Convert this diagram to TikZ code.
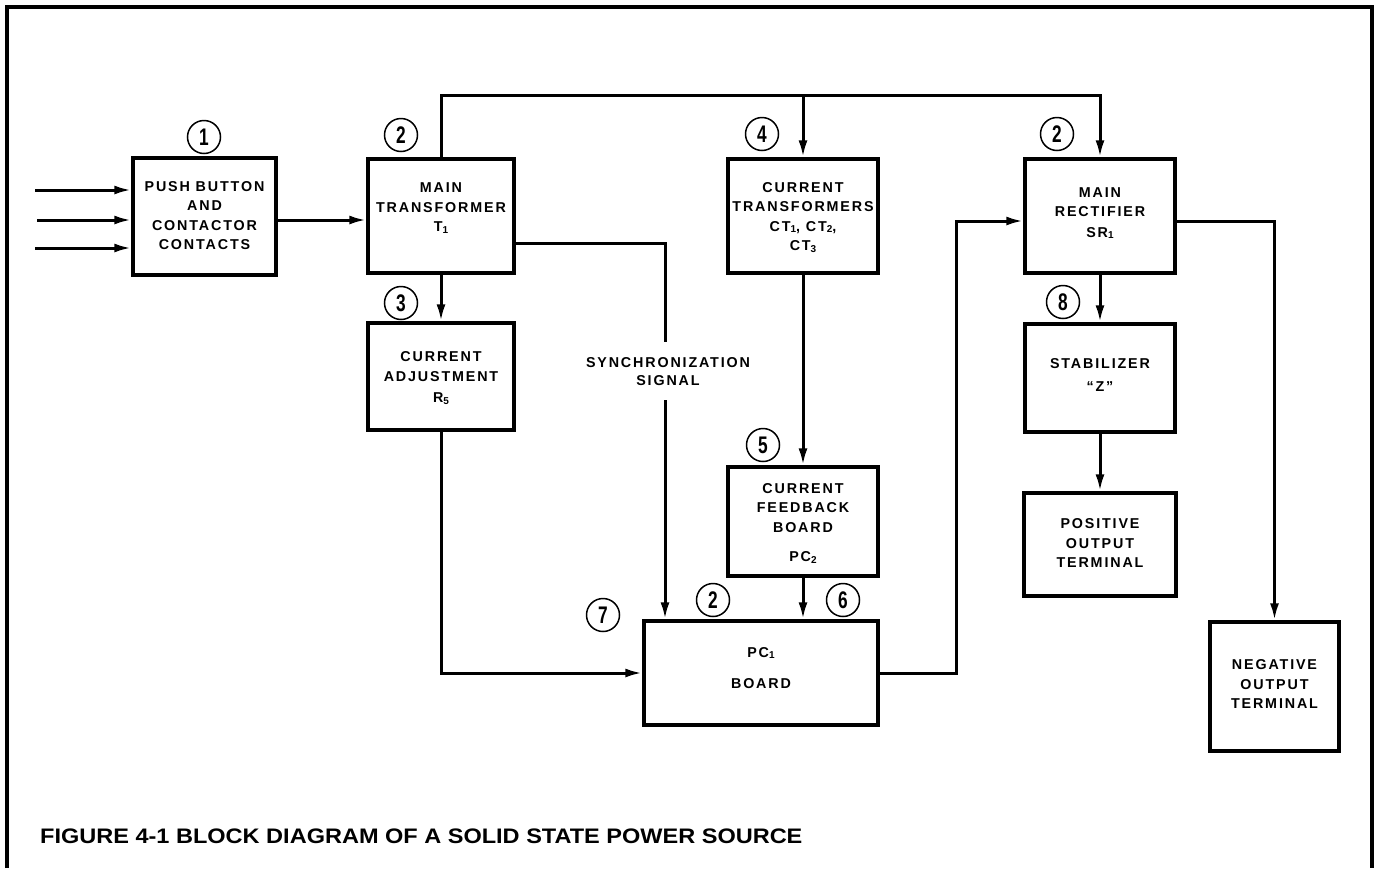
\documentclass[tikz,border=0pt]{standalone}
\usepackage{fontspec}
\setmainfont{Liberation Sans}
\newfontfamily\boxfont[LetterSpace=13,Ligatures=TeX]{Liberation Sans}
\usetikzlibrary{arrows.meta,calc}
\newcommand{\sbs}[1]{\raisebox{-1.5pt}{\fontsize{10}{10}\selectfont #1}}
\newcommand{\cnum}[1]{\scalebox{0.72}[1]{#1}}
\tikzset{
  blk/.style={draw, rectangle, line width=3.4pt, inner sep=0pt},
  txt/.style={align=center, inner sep=0pt, font=\boxfont\bfseries\fontsize{14.3}{19.5}\selectfont},
  num/.style={draw, circle, line width=1.5pt, minimum size=33pt, inner sep=0pt,
              font=\bfseries\fontsize{24}{24}\selectfont},
  wire/.style={line width=3pt, line join=miter},
  arr/.style={wire, -{Latex[length=17pt,width=9pt]}},
  frame/.style={line width=3.2pt},
}
\begin{document}
\begin{tikzpicture}[x=1pt,y=-1pt]
\useasboundingbox (0,0) rectangle (1377,868);
\draw[frame] (7,868) -- (7,7) -- (1372,7) -- (1372,868);

% boxes
\node[blk, minimum width=143, minimum height=117] (pb)  at (204.5,216.5) {};
\node[blk, minimum width=146, minimum height=114] (mt)  at (441,216) {};
\node[blk, minimum width=146, minimum height=107] (ca)  at (441,376.5) {};
\node[blk, minimum width=150, minimum height=114] (ct)  at (803,216) {};
\node[blk, minimum width=150, minimum height=109] (cfb) at (803,521.5) {};
\node[blk, minimum width=234, minimum height=104] (pc)  at (761,673) {};
\node[blk, minimum width=150, minimum height=114] (mr)  at (1100,216) {};
\node[blk, minimum width=150, minimum height=108] (st)  at (1100,378) {};
\node[blk, minimum width=152, minimum height=103] (pos) at (1100,544.5) {};
\node[blk, minimum width=129, minimum height=129] (neg) at (1274.5,686.5) {};

% texts
\node[txt] (tpb)  at (204.5,215.5) {PUSH BUTTON\\AND\\CONTACTOR\\CONTACTS};
\node[txt] (tmt)  at (441,208) {MAIN\\TRANSFORMER\\T\sbs{1}};
\node[txt] (tca)  at (441,378) {CURRENT\\ADJUSTMENT\\[2pt]R\sbs{5}};
\node[txt] (tct)  at (803,217.5) {CURRENT\\TRANSFORMERS\\CT\sbs{1}, CT\sbs{2},\\CT\sbs{3}};
\node[txt] (tcfb) at (803,523) {CURRENT\\FEEDBACK\\BOARD\\[10pt]PC\sbs{2}};
\node[txt] (tpc)  at (761,668) {PC\sbs{1}\\[12pt]BOARD};
\node[txt] (tmr)  at (1100,213) {MAIN\\RECTIFIER\\[1pt]SR\sbs{1}};
\node[txt] (tst)  at (1100,375) {STABILIZER\\[4pt]“Z”};
\node[txt] (tpos) at (1100,543) {POSITIVE\\OUTPUT\\TERMINAL};
\node[txt] (tneg) at (1274.5,684) {NEGATIVE\\OUTPUT\\TERMINAL};
\node[txt, font=\boxfont\bfseries\fontsize{14.3}{18}\selectfont] (sync) at (668,372) {SYNCHRONIZATION\\SIGNAL};

% numbered circles
\node[num] (n1)  at (204,137)  {\cnum{1}};
\node[num] (n2a) at (401,135)  {\cnum{2}};
\node[num] (n3)  at (401,303)  {\cnum{3}};
\node[num] (n4)  at (762,134)  {\cnum{4}};
\node[num] (n5)  at (763,445)  {\cnum{5}};
\node[num] (n2b) at (713,600)  {\cnum{2}};
\node[num] (n6)  at (843,600)  {\cnum{6}};
\node[num] (n7)  at (603,615)  {\cnum{7}};
\node[num] (n2c) at (1057,134) {\cnum{2}};
\node[num] (n8)  at (1063,302) {\cnum{8}};

% coordinates
\coordinate (in1) at (35,190);
\coordinate (in2) at (37,220);
\coordinate (in3) at (35,248);
\coordinate (bus) at (441,95);
\coordinate (mtOut) at (514,243);
\coordinate (syncA) at (665,243);
\coordinate (syncB) at (665,342);
\coordinate (syncC) at (665,400);
\coordinate (fb) at (956,221);

% connectors
\draw[arr] (in1) -- (pb.west |- in1);
\draw[arr] (in2) -- (pb.west |- in2);
\draw[arr] (in3) -- (pb.west |- in3);
\draw[arr] (pb.east |- in2) -- (mt.west |- in2);
\draw[arr] (mt.north) -- (bus) -| (mr.north);
\draw[arr] (ct.north |- bus) -- (ct.north);
\draw[arr] (mt.south) -- (ca.north);
\draw[wire] (mtOut) -- (syncA) -- (syncB);
\draw[arr] (syncC) -- (syncC |- pc.north);
\draw[arr] (ca.south) |- (pc.west);
\draw[arr] (ct.south) -- (cfb.north);
\draw[arr] (cfb.south) -- (cfb.south |- pc.north);
\draw[arr] (pc.east) -| (fb) -- (mr.west |- fb);
\draw[arr] (mr.east |- fb) -| (neg.north);
\draw[arr] (mr.south) -- (st.north);
\draw[arr] (st.south) -- (pos.north);

% caption
\node[anchor=west, inner sep=0pt, font=\bfseries\fontsize{21}{21}\selectfont] (cap) at (40,836)
  {\scalebox{1.12}[1]{FIGURE 4-1 BLOCK DIAGRAM OF A SOLID STATE POWER SOURCE}};
\end{tikzpicture}
\end{document}
